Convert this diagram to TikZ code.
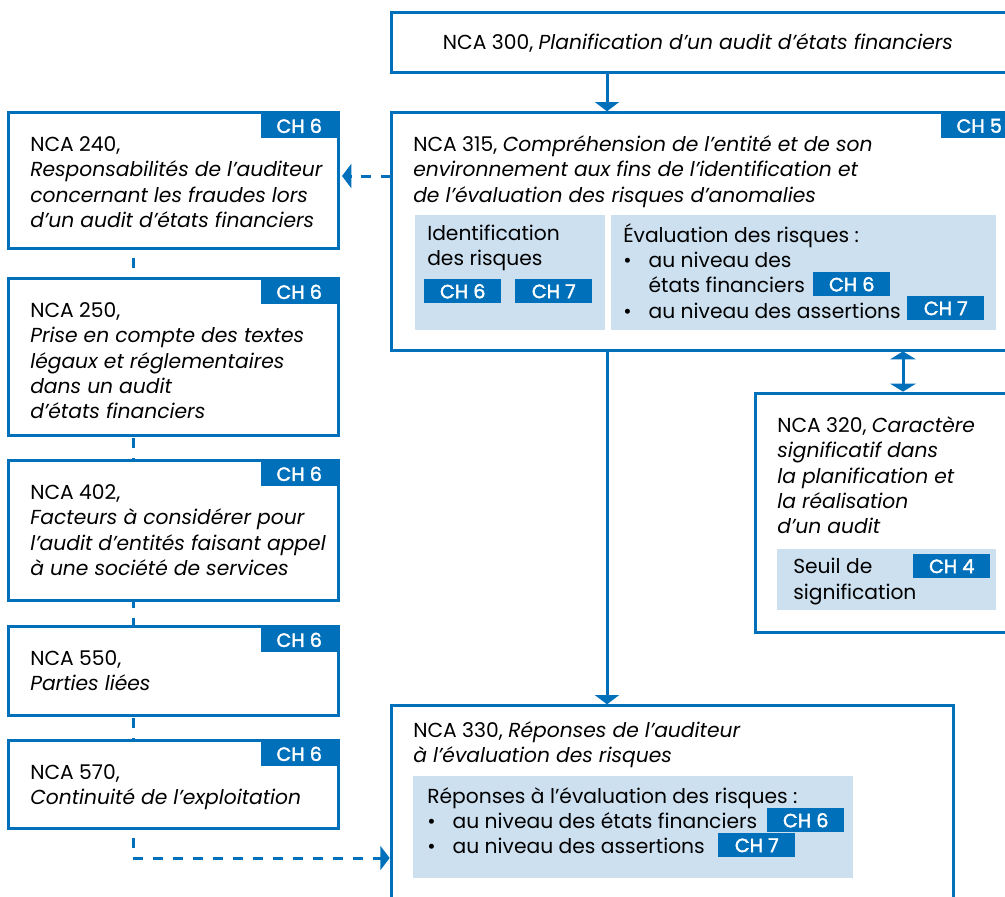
\documentclass[tikz,border=0pt]{standalone}
\usepackage{fontspec}
\setmainfont{Poppins}
\newfontfamily\tagfont[FakeBold=2]{Poppins}
\usetikzlibrary{arrows.meta,backgrounds}
\definecolor{ncablue}{RGB}{0,112,186}
\definecolor{ncalight}{RGB}{204,224,240}
\newcommand\mybox[6][]{\node[box,#1,minimum width={(#5-#3)*0.75pt},minimum height={(#6-#4)*0.75pt}] (#2) at (#3,#4) {};}
\newcommand\mypanel[5]{\node[panel,minimum width={(#4-#2)*0.75pt},minimum height={(#5-#3)*0.75pt}] (#1) at (#2,#3) {};}
\begin{document}
\begin{tikzpicture}[x=0.75pt,y=-0.75pt,
 box/.style={draw=ncablue,line width=2.25pt,fill=white,anchor=north west,inner sep=0pt,outer sep=0pt},
 panel/.style={fill=ncalight,anchor=north west,inner sep=0pt,outer sep=0pt},
 tag/.style={fill=ncablue,text=white,inner sep=0pt,minimum width=57.75pt,minimum height=18pt,font=\tagfont\fontsize{14.4}{16}\selectfont},
 txt/.style={anchor=north west,inner sep=0pt,yshift=13.3pt,align=left,font=\fontsize{15.2}{19}\selectfont,execute at begin node=\strut},
 arr/.style={draw=ncablue,line width=2.25pt,-{Triangle[width=18pt,length=7pt]}},
 darr/.style={draw=ncablue,line width=2.25pt,dash pattern=on 7.5pt off 7.5pt,-{Triangle[width=18pt,length=7pt]}},
]
\useasboundingbox (0,0) rectangle (1005,896);
% coordinates for connectors
\coordinate (cL) at (133,858);
\coordinate (cM) at (607,0);
\coordinate (cR) at (903,0);
\coordinate (cA) at (0,176);
% boxes
\mybox{n300}{391}{12}{1018}{72}
\mybox{n315}{391}{112}{1018}{350}
\mybox{n320}{755}{393}{1018}{632}
\mybox{n330}{391}{705}{953}{910}
\mybox{n240}{8}{112}{338}{248}
\mybox{n250}{8}{278}{338}{435}
\mybox{n402}{8}{460}{338}{600}
\mybox{n550}{8}{626}{338}{715}
\mybox{n570}{8}{740}{338}{828}
% panels
\mypanel{pid}{415}{215}{605}{330}
\mypanel{pev}{611}{215}{996}{330}
\mypanel{pse}{777}{549}{996}{610}
\mypanel{pre}{413}{776}{853}{878}
% background dashed line
\begin{pgfonlayer}{background}
\draw[darr,dash phase=7.5pt,shorten >=1pt] (n240.south -| cL) -- (cL) -- (cL -| n330.west);
\end{pgfonlayer}
% texts
\node[anchor=center,inner sep=0pt,font=\fontsize{15.2}{19}\selectfont] (t300) at (698,43) {NCA 300, \textit{Planification d’un audit d’états financiers}};
\node[txt] (t315) at (413,153) {NCA 315, \textit{Compréhension de l’entité et de son}\\\textit{environnement aux fins de l’identification et}\\\textit{de l’évaluation des risques d’anomalies}};
\node[txt] (tid) at (427,242) {Identification\\des risques};
\node[txt] (tev) at (623,241) {\begin{tabular}{@{}p{19pt}@{}l@{}}\multicolumn{2}{@{}l@{}}{Évaluation des risques :}\\ • & au niveau des\\ & états financiers\\ • & au niveau des assertions\end{tabular}};
\node[txt] (t240) at (30,154) {NCA 240,\\\textit{Responsabilités de l’auditeur}\\\textit{concernant les fraudes lors}\\\textit{d’un audit d’états financiers}};
\node[txt] (t250) at (30,320) {NCA 250,\\\textit{Prise en compte des textes}\\\textit{légaux et réglementaires}\\\textit{dans un audit}\\\textit{d’états financiers}};
\node[txt] (t402) at (30,502) {NCA 402,\\\textit{Facteurs à considérer pour}\\\textit{l’audit d’entités faisant appel}\\\textit{à une société de services}};
\node[txt] (t550) at (30,668) {NCA 550,\\\textit{Parties liées}};
\node[txt] (t570) at (30,782) {NCA 570,\\\textit{Continuité de l’exploitation}};
\node[txt] (t320) at (777,434) {NCA 320, \textit{Caractère}\\\textit{significatif dans}\\\textit{la planification et}\\\textit{la réalisation}\\\textit{d’un audit}};
\node[txt] (tse) at (793,576) {Seuil de\\signification};
\node[txt] (t330) at (413,739) {NCA 330, \textit{Réponses de l’auditeur}\\\textit{à l’évaluation des risques}};
\node[txt] (tre) at (427,803) {\begin{tabular}{@{}p{19pt}@{}l@{}}\multicolumn{2}{@{}l@{}}{Réponses à l’évaluation des risques :}\\ • & au niveau des états financiers\\ • & au niveau des assertions\end{tabular}};
% tags
\node[tag,anchor=north east,yshift=-1.2pt] (g240) at (n240.north east) {CH 6};
\node[tag,anchor=north east,yshift=-1.2pt] (g250) at (n250.north east) {CH 6};
\node[tag,anchor=north east,yshift=-1.2pt] (g402) at (n402.north east) {CH 6};
\node[tag,anchor=north east,yshift=-1.2pt] (g550) at (n550.north east) {CH 6};
\node[tag,anchor=north east,yshift=-1.2pt] (g570) at (n570.north east) {CH 6};
\node[tag,anchor=north east,yshift=-1.2pt] (g315) at (n315.north east) {CH 5};
\node[tag,anchor=north west] (gid6) at (424,279) {CH 6};
\node[tag,anchor=north west] (gid7) at (515,279) {CH 7};
\node[tag,anchor=north west] (gev6) at (813,272) {CH 6};
\node[tag,anchor=north west] (gev7) at (907,296) {CH 7};
\node[tag,anchor=north west] (gse4) at (913,554) {CH 4};
\node[tag,anchor=north west] (gre6) at (767,808) {CH 6};
\node[tag,anchor=north west] (gre7) at (718,833) {CH 7};
% connectors
\draw[arr,shorten >=0.5pt] (n300.south -| cM) -- (n315.north -| cM);
\draw[arr,shorten >=0.5pt] (n315.south -| cM) -- (n330.north -| cM);
\draw[draw=ncablue,line width=2.25pt,{Triangle[width=19pt,length=6pt]}-{Triangle[width=19pt,length=6pt]},shorten >=1pt,shorten <=1pt] (n315.south -| cR) -- (n320.north -| cR);
\draw[darr,shorten >=3pt] (n315.west |- cA) -- (n240.east |- cA);
\end{tikzpicture}
\end{document}
